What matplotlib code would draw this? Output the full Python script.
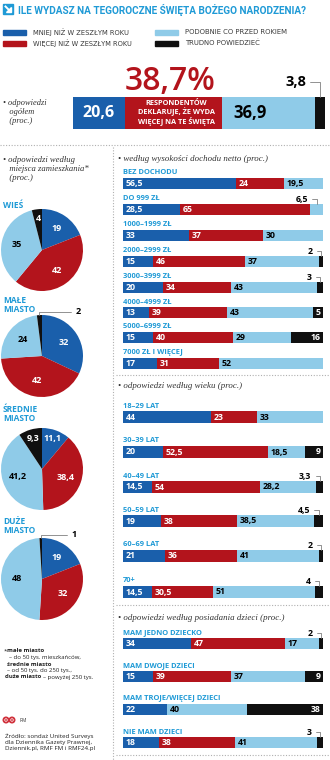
import numpy as np
import matplotlib.pyplot as plt
from matplotlib.patches import Rectangle, Polygon, Circle

W, H = 330, 760
BLUE = '#1a5fab'
RED = '#b3141c'
LBLUE = '#8fcbe8'
BLACK = '#101010'
CYAN = '#1f9ad6'
COLORS = [BLUE, RED, LBLUE, BLACK]
TXT = ['white', 'white', 'black', 'white']
SANS = 'Open Sans'
SERIF = 'Liberation Serif'

# ---- dane ----
legend_labels = ['MNIEJ NIŻ W ZESZŁYM ROKU', 'WIĘCEJ NIŻ W ZESZŁYM ROKU',
                 'PODOBNIE CO PRZED ROKIEM', 'TRUDNO POWIEDZIEĆ']
overall = [20.6, 38.7, 36.9, 3.8]

pie_names = ['WIEŚ', 'MAŁE\nMIASTO', 'ŚREDNIE\nMIASTO', 'DUŻE\nMIASTO']
pie_values = [[19, 42, 35, 4], [32, 42, 24, 2], [11.1, 38.4, 41.2, 9.3], [19, 32, 48, 1]]

income_labels = ['BEZ DOCHODU', 'DO 999 ZŁ', '1000–1999 ZŁ', '2000–2999 ZŁ',
                 '3000–3999 ZŁ', '4000–4999 ZŁ', '5000–6999 ZŁ', '7000 ZŁ I WIĘCEJ']
income_values = [[56.5, 24, 19.5, 0], [28.5, 65, 6.5, 0], [33, 37, 30, 0], [15, 46, 37, 2],
                 [20, 34, 43, 3], [13, 39, 43, 5], [15, 40, 29, 16], [17, 31, 52, 0]]

age_labels = ['18–29 LAT', '30–39 LAT', '40–49 LAT', '50–59 LAT', '60–69 LAT', '70+']
age_values = [[44, 23, 33, 0], [20, 52.5, 18.5, 9], [14.5, 54, 28.2, 3.3],
              [19, 38, 38.5, 4.5], [21, 36, 41, 2], [14.5, 30.5, 51, 4]]

kids_labels = ['MAM JEDNO DZIECKO', 'MAM DWOJE DZIECI', 'MAM TROJE/WIĘCEJ DZIECI', 'NIE MAM DZIECI']
kids_values = [[34, 47, 17, 2], [15, 39, 37, 9], [22, 0, 40, 38], [18, 38, 41, 3]]


def fmt(v):
    return ('%g' % v).replace('.', ',')


fig = plt.figure(figsize=(W / 100, H / 100), dpi=100)
fig.patch.set_facecolor('white')
renderer = fig.canvas.get_renderer()

ov = fig.add_axes([0, 0, 1, 1])
ov.set_xlim(0, W)
ov.set_ylim(H, 0)
ov.axis('off')


def px_axes(x, y, w, h):
    return fig.add_axes([x / W, 1 - (y + h) / H, w / W, h / H])


def fit(t, width_px):
    # dopasowanie rozmiaru czcionki do szerokości w pikselach
    bb = t.get_window_extent(renderer)
    t.set_fontsize(t.get_fontsize() * width_px / bb.width)
    return t


def text_width(t):
    return t.get_window_extent(renderer).width


def leader(ax, s, xy, off, fs, ha='right'):
    ax.annotate(s, xy=xy, xytext=off, textcoords='offset points', ha=ha, va='center',
                fontsize=fs, fontweight='bold', fontfamily=SANS, color='black',
                arrowprops=dict(arrowstyle='-', color='#808080', lw=0.6, shrinkA=1, shrinkB=0,
                                relpos=(1 if ha == 'right' else 0, 0.5),
                                connectionstyle='angle,angleA=0,angleB=90,rad=0'))


def stacked(x, y, w, h, vals):
    ax = px_axes(x, y, w, h)
    left = np.concatenate([[0], np.cumsum(vals)[:-1]])
    ax.barh(0, vals, left=left, color=COLORS, height=1, linewidth=0)
    ax.set_xlim(0, sum(vals))
    ax.set_ylim(-0.5, 0.5)
    ax.axis('off')
    return ax, left


# ---- tytuł ----
ov.add_patch(Rectangle((3, 4), 10, 10, color=CYAN))
ov.plot([5.5, 9.5], [6.5, 10.5], color='white', lw=1.4)
ov.add_patch(Polygon([(11, 7), (11, 12), (6, 12)], color='white'))
t = ov.text(18, 9.5, 'ILE WYDASZ NA TEGOROCZNE ŚWIĘTA BOŻEGO NARODZENIA?', fontsize=8,
            fontweight='bold', fontfamily='Roboto', color=CYAN, va='center', ha='left')
fit(t, 290)

# ---- legenda ----
leg_pos = [(3, 32), (3, 43), (155, 32), (155, 43)]
leg_w = [97, 100, 103, 76]
for (lx, ly), lab, col, lw_ in zip(leg_pos, legend_labels, [BLUE, RED, LBLUE, BLACK], leg_w):
    ov.add_patch(Rectangle((lx, ly - 2.5), 23, 5, color=col))
    t = ov.text(lx + 30, ly, lab, fontsize=5, fontfamily='DejaVu Sans', color='#3a3a3a',
                va='center')
    fit(t, lw_)

# ---- ogółem ----
ov.text(3, 112, '• odpowiedzi\n   ogółem\n   (proc.)', fontsize=6, fontstyle='italic',
        fontfamily=SERIF, color='#333333', va='center', linespacing=1.1)
ax, left = stacked(73, 97, 252, 32, overall)
ax.text(left[0] + overall[0] / 2, 0, fmt(overall[0]), color='white', fontsize=11.5,
        fontweight='bold', fontfamily=SANS, ha='center', va='center')
ax.text(left[1] + overall[1] / 2 + 1, 0, 'RESPONDENTÓW\nDEKLARUJE, ŻE WYDA\nWIĘCEJ NA TE ŚWIĘTA',
        color='white', fontsize=5.3, fontweight='bold', fontfamily=SANS, ha='center',
        va='center', linespacing=1.1)
ax.text(left[2] + 4.3, 0, fmt(overall[2]), color='black', fontsize=12,
        fontweight='bold', fontfamily=SANS, ha='left', va='center')
leader(ax, fmt(overall[3]), (left[3] + overall[3] / 2, 0.5), (-10, 11), 10.5)
ax.text(left[1] + overall[1] / 2 - 1.5, 0.97, fmt(overall[1]) + '%', color=RED, fontsize=23,
        fontweight='semibold', fontfamily=SANS, ha='center', va='center')

# ---- separatory ----
sep = dict(color='#b0b0b0', lw=0.8, ls=(0, (1, 1.5)))
ov.plot([0, W], [145, 145], **sep)
ov.plot([113, 113], [147, H], **sep)
for yy in [375, 605, 755]:
    ov.plot([116, W], [yy, yy], **sep)

# ---- wykresy kołowe ----
ov.text(3, 169, '• odpowiedzi według\n   miejsca zamieszkania*\n   (proc.)', fontsize=6.2,
        fontstyle='italic', fontfamily=SERIF, color='#333333', va='center', linespacing=1.1)
pie_cy = [250, 356, 469, 579]
name_y = [205, 305, 414, 526]
for k in range(4):
    vals = pie_values[k]
    cx, cy, r = 42, pie_cy[k], 41
    ov.text(3, name_y[k], pie_names[k], fontsize=6, fontweight='bold', fontfamily=SANS,
            color=CYAN, va='center', linespacing=0.95)
    ax = px_axes(cx - r, cy - r, 2 * r, 2 * r)
    wedges, _ = ax.pie(vals, colors=COLORS, startangle=90, counterclock=False,
                       wedgeprops=dict(linewidth=0))
    ax.set_xlim(-1, 1)
    ax.set_ylim(-1, 1)
    for wdg, v, c in zip(wedges, vals, TXT):
        a = np.deg2rad((wdg.theta1 + wdg.theta2) / 2)
        if v < 3:
            leader(ax, fmt(v), (np.cos(a), np.sin(a)), (26 if v > 1 else 22, 2.5), 6.5, ha='left')
        else:
            d = 0.62 if v >= 15 else 0.78
            ax.text(d * np.cos(a), d * np.sin(a), fmt(v), color=c, fontsize=6.5,
                    fontweight='bold', fontfamily=SANS, ha='center', va='center')

# ---- przypis i źródło ----
fs_note = 4.3
note = dict(fontsize=fs_note, fontfamily=SANS, va='center', color='#222222')
ov.text(4, 651, '*', **note)
ov.text(7, 651, 'małe miasto', fontweight='bold', **note)
ov.text(9, 657.5, '– do 50 tys. mieszkańców,', **note)
ov.text(7, 664, 'średnie miasto', fontweight='bold', **note)
ov.text(7, 670.5, '– od 50 tys. do 250 tys.,', **note)
t = ov.text(5, 677, 'duże miasto', fontweight='bold', **note)
ov.text(5 + text_width(t) + 2, 677, '– powyżej 250 tys.', **note)

for lx in [6, 12]:
    ov.add_patch(Circle((lx, 720), 2.8, color='#d0303a'))
    ov.add_patch(Circle((lx, 720), 1.3, fill=False, ec='white', lw=0.5))
ov.text(19, 720, 'RM', fontsize=3.5, fontfamily=SANS, va='center', color='#333333')
ov.text(5, 742, 'Źródło: sondaż United Surveys\ndla Dziennika Gazety Prawnej,\nDziennik.pl, RMF FM i RMF24.pl',
        fontsize=4.5, fontfamily=SANS, va='center', color='#222222', linespacing=1.2)


# ---- wykresy słupkowe ----
def bar_row(label, vals, top, h=11):
    ov.text(123, top - 5, label, fontsize=5.4, fontweight='bold', fontfamily=SANS,
            color=CYAN, va='center')
    ax, left = stacked(123, top, 200, h, vals)
    for i, v in enumerate(vals):
        if v == 0:
            continue
        s = fmt(v)
        if v < 5 or (',' in s and v < 8):
            leader(ax, s, (left[i] + v / 2, 0.5), (-6, 3.5), 6.3)
        elif i == 3:
            ax.text(left[i] + v - 1.2, 0, s, color=TXT[i], fontsize=6.3, fontweight='bold',
                    fontfamily=SANS, ha='right', va='center')
        else:
            ax.text(left[i] + 1.5, 0, s, color=TXT[i], fontsize=6.3, fontweight='bold',
                    fontfamily=SANS, ha='left', va='center')


def heading(y, s):
    ov.text(118, y, '• ' + s, fontsize=6.4, fontstyle='italic', fontfamily=SERIF,
            color='#333333', va='center')


heading(159, 'według wysokości dochodu netto (proc.)')
for lab, vals, top in zip(income_labels, income_values, [178, 204, 230, 256, 282, 307, 332, 358]):
    bar_row(lab, vals, top)

heading(386, 'odpowiedzi według wieku (proc.)')
for lab, vals, top in zip(age_labels, age_values, [411, 446, 481, 515, 550, 586]):
    bar_row(lab, vals, top, h=12)

heading(618, 'odpowiedzi według posiadania dzieci (proc.)')
for lab, vals, top in zip(kids_labels, kids_values, [638, 671, 704, 737]):
    bar_row(lab, vals, top)

fig.savefig('out.png', dpi=100)
